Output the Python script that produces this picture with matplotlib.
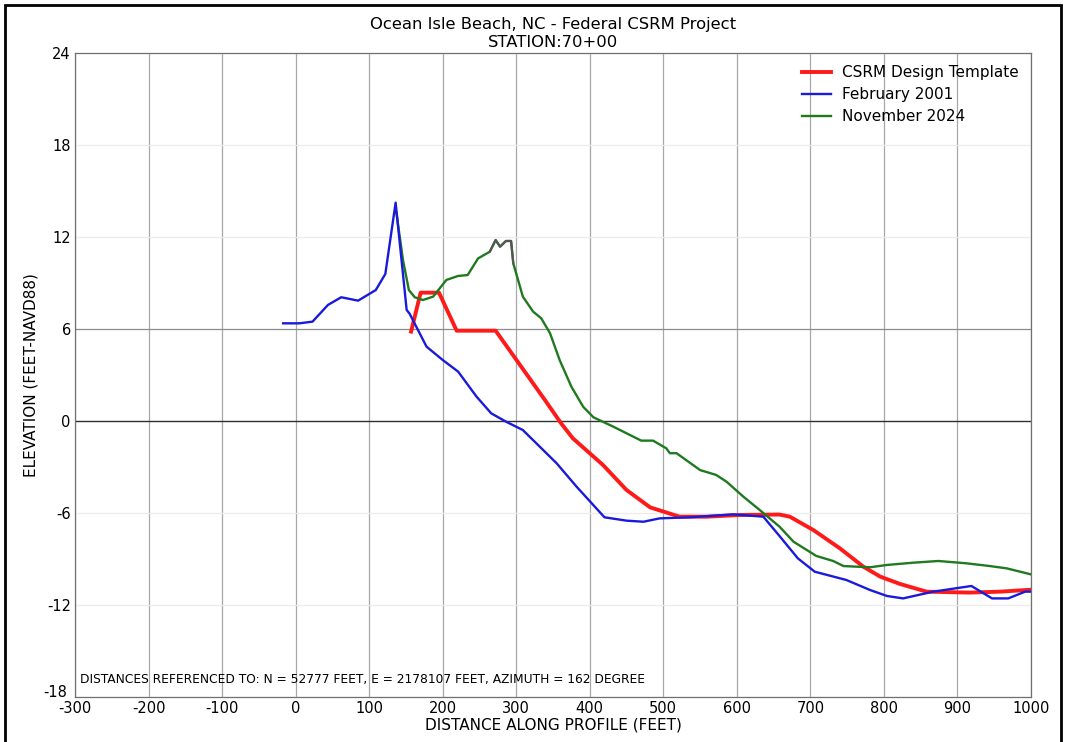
import matplotlib
matplotlib.use("Agg")
import matplotlib.pyplot as plt
from matplotlib.patches import Rectangle
from matplotlib.transforms import ScaledTranslation

plt.rcParams['font.family'] = ['DejaVu Sans']
plt.rcParams['axes.unicode_minus'] = False

# ---- data ----
csrm_x = [157, 170, 195, 219, 272, 339, 361, 377, 418, 450, 482, 522, 559, 604, 658,
          672, 704, 740, 772, 795, 822, 858, 917, 958, 1001]
csrm_y = [5.83, 8.37, 8.37, 5.89, 5.89, 1.37, -0.15, -1.13, -2.87, -4.5, -5.63, -6.24,
          -6.24, -6.13, -6.1, -6.24, -7.11, -8.3, -9.5, -10.15, -10.63, -11.13, -11.19,
          -11.13, -11.0]

feb2001_x = [-17, 5, 23, 44, 62, 85, 109, 122, 136, 151, 155, 178, 200, 221, 246, 266,
             286, 309, 355, 382, 420, 450, 473, 495, 536, 595, 636, 658, 683, 706, 749,
             781, 804, 826, 867, 919, 947, 969, 992, 1000]
feb2001_y = [6.37, 6.37, 6.48, 7.57, 8.07, 7.85, 8.54, 9.59, 14.24, 7.24, 7.0, 4.85,
             3.98, 3.22, 1.59, 0.5, -0.04, -0.59, -2.76, -4.28, -6.28, -6.5, -6.57,
             -6.35, -6.28, -6.09, -6.24, -7.5, -8.96, -9.83, -10.37, -11.02, -11.41,
             -11.57, -11.13, -10.76, -11.57, -11.57, -11.13, -11.13]

nov2024_x = [137, 146, 154, 162, 173, 187, 205, 221, 234, 248, 264, 272, 278, 286, 293,
             296, 309, 323, 334, 346, 359, 375, 391, 405, 432, 470, 486, 504, 509, 518,
             550, 572, 586, 609, 631, 658, 677, 708, 731, 745, 781, 804, 840, 874, 912,
             944, 967, 1003]
nov2024_y = [13.6, 10.5, 8.54, 8.07, 7.89, 8.11, 9.2, 9.46, 9.52, 10.6, 11.04, 11.8,
             11.37, 11.74, 11.74, 10.28, 8.11, 7.13, 6.7, 5.72, 3.98, 2.24, 0.93, 0.24,
             -0.37, -1.28, -1.28, -1.78, -2.1, -2.1, -3.2, -3.52, -3.96, -4.94, -5.8,
             -6.89, -7.87, -8.8, -9.13, -9.46, -9.54, -9.39, -9.24, -9.13, -9.28, -9.46,
             -9.61, -10.04]

x_ticks = list(range(-300, 1001, 100))
y_ticks = list(range(-18, 25, 6))

title_text = "Ocean Isle Beach, NC - Federal CSRM Project\nSTATION:70+00"
note_text = "DISTANCES REFERENCED TO: N = 52777 FEET, E = 2178107 FEET, AZIMUTH = 162 DEGREE"

# ---- figure ----
fig = plt.figure(figsize=(10.66, 7.42), dpi=100)
ax = fig.add_axes([75/1066, 1-697/742, (1031-75)/1066, (697-53)/742])

# grid
for xv in x_ticks:
    ax.axvline(xv, color='#a8a8a8', lw=0.9, zorder=1)
for yv in y_ticks:
    if yv == 0:
        ax.axhline(yv, color='#303030', lw=1.0, zorder=1)
    elif yv == 6:
        ax.axhline(yv, color='#8c8c8c', lw=0.9, zorder=1)
    else:
        ax.axhline(yv, color='#ececec', lw=0.9, zorder=1)

ax.plot(csrm_x, csrm_y, color='#ff1a1a', lw=2.8, label='CSRM Design Template', zorder=3)
ax.plot(feb2001_x, feb2001_y, color='#1a1adb', lw=1.7, label='February 2001', zorder=4)
ax.plot(nov2024_x, nov2024_y, color='#1f7a1f', lw=1.7, label='November 2024', zorder=3.5)
# gray artifact on top crest of the 2024 profile
ax.plot(nov2024_x[10:16], nov2024_y[10:16], color='#555555', lw=1.5, zorder=3.6)

ax.set_xlim(-300, 1000)
ax.set_ylim(-18, 24)
ax.set_xticks(x_ticks)
ax.set_yticks(y_ticks)
ax.tick_params(length=0, labelsize=10.5, pad=3)
for s in ax.spines.values():
    s.set_color('#707070')
    s.set_linewidth(0.9)

# lift the bottom y label slightly, as in the reference
fig.canvas.draw()
ylabels = ax.get_yticklabels()
ylabels[0].set_transform(ylabels[0].get_transform() + ScaledTranslation(-0.04, 0.06, fig.dpi_scale_trans))

ax.set_xlabel("DISTANCE ALONG PROFILE (FEET)", fontsize=11, labelpad=1)
ax.set_ylabel("ELEVATION (FEET-NAVD88)", fontsize=11)
ax.yaxis.set_label_coords(-0.038, 0.5)
ax.set_title(title_text, fontsize=11.8, pad=4, linespacing=1.25)

ax.text(0.005, 0.027, note_text, transform=ax.transAxes, fontsize=8.8,
        ha='left', va='center', zorder=5)

leg = ax.legend(loc='upper right', frameon=False, fontsize=11, handlelength=1.9,
                handletextpad=0.7, labelspacing=0.45, borderaxespad=0.4)

# outer frame
fig.add_artist(Rectangle((5/1066, -0.02), 1056/1066, 1.02-5/742, transform=fig.transFigure,
                         fill=False, edgecolor='black', lw=2.0))

fig.savefig("out.png", dpi=100)
